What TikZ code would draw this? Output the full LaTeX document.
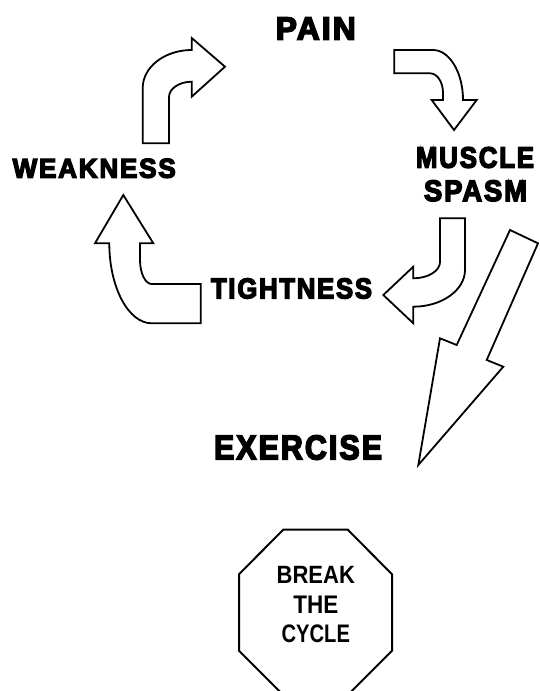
\documentclass[tikz,border=0pt]{standalone}
\usepackage{fontspec}
\usepackage{graphicx}
\setmainfont{Liberation Sans}
\newfontfamily\heavyfont{Liberation Sans}[FakeBold=5, LetterSpace=7]
\usetikzlibrary{shapes.geometric}
\tikzset{
  blockarrow/.style={draw=black, fill=white, line width=1.8pt, line join=miter},
  heavylabel/.style={inner sep=0pt, outer sep=0pt, font=\heavyfont\bfseries},
  stoplabel/.style={inner sep=0pt, outer sep=0pt, font=\bfseries},
  stopsign/.style={draw=black, line width=2pt, line join=miter}
}
\newcommand{\fitbox}[3]{\resizebox{#1pt}{#2pt}{#3}}
\begin{document}
\begin{tikzpicture}[x=1pt,y=-1pt]
\useasboundingbox (0,0) rectangle (539,691);
\fill[white] (0,0) rectangle (539,691);

% labels
\node[heavylabel] (pain)     at (315.8,28.5)  {\fitbox{80}{22}{PAIN}};
\node[heavylabel] (muscle)   at (475,157.5)   {\fitbox{118}{20.6}{MUSCLE}};
\node[heavylabel] (spasm)    at (475.5,190.8) {\fitbox{103}{20.7}{SPASM}};
\node[heavylabel] (weakness) at (94.2,168.3)  {\fitbox{163}{19}{WEAKNESS}};
\node[heavylabel] (tight)    at (291.5,288.5) {\fitbox{161}{20}{TIGHTNESS}};
\node[heavylabel] (exercise) at (298,447.5)   {\fitbox{168}{24}{EXERCISE}};

% arrow weakness -> pain
\draw[blockarrow] (142.7,143.3) -- (142.7,88)
  .. controls (142.7,67) and (164.7,50) .. (191.7,50)
  -- (191.7,38) -- (225,66.7) -- (191.7,96.7) -- (191.7,81.7)
  .. controls (179.2,81.7) and (169,88.7) .. (169,97)
  -- (169,143.3) -- cycle;

% arrow pain -> muscle spasm
\draw[blockarrow] (394.3,50) -- (433,50)
  .. controls (449.5,50) and (463,72.5) .. (463,100)
  -- (476.7,100) -- (454,130) -- (431.7,100) -- (443,100) -- (443,93)
  .. controls (443,82) and (437.2,73.3) .. (430,73.3)
  -- (394.3,73.3) -- cycle;

% arrow muscle spasm -> tightness
\draw[blockarrow] (440,218.3) -- (465,218.3) -- (465,270)
  .. controls (465,290.2) and (441.7,306.7) .. (413.3,306.7)
  -- (413.3,323.3) -- (383.3,295) -- (413.3,266.7) -- (413.3,278.3)
  .. controls (428,278.3) and (440,271) .. (440,262)
  -- cycle;

% arrow tightness -> weakness
\draw[blockarrow] (200.7,284) -- (200.7,323.3) -- (151.7,323.3)
  .. controls (128.4,323.3) and (109.3,287.3) .. (109.3,243.3)
  -- (95,243.3) -- (123.3,195) -- (153.3,243.3) -- (140,243.3) -- (140,260)
  .. controls (140,273.2) and (145.3,284) .. (151.7,284)
  -- cycle;

% lightning arrow to exercise
\draw[blockarrow] (510,230) -- (538,243.3) -- (486.7,360) -- (503.3,366.7)
  -- (418.3,465) -- (440,338.3) -- (456.7,345) -- cycle;

% stop sign
\draw[stopsign] (283.4,529.5) -- (347.6,529.5) -- (392,574.3) -- (392,650.7)
  -- (347.6,695.2) -- (283.4,695.2) -- (239,650.7) -- (239,574.3) -- cycle;
\node[stoplabel] (break) at (315.8,575)   {\fitbox{78.3}{17.2}{BREAK}};
\node[stoplabel] (the)   at (315.8,604.3) {\fitbox{45}{17.5}{THE}};
\node[stoplabel] (cycle) at (315.8,633.8) {\fitbox{68.3}{17.7}{CYCLE}};
\end{tikzpicture}
\end{document}
